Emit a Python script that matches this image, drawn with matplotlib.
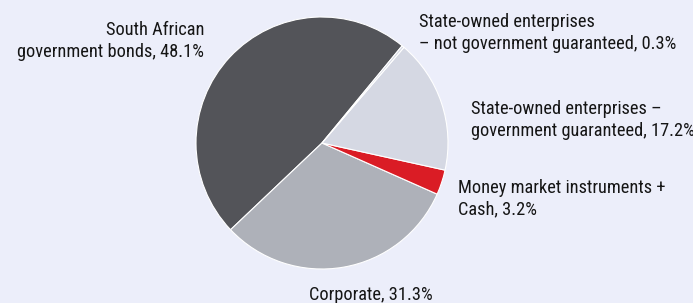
import matplotlib.pyplot as plt
from matplotlib import font_manager

labels = ['South African\ngovernment bonds, 48.1%',
          'Corporate, 31.3%',
          'Money market instruments +\nCash, 3.2%',
          'State-owned enterprises –\ngovernment guaranteed, 17.2%',
          'State-owned enterprises\n– not government guaranteed, 0.3%']
shares = [48.1, 31.3, 3.2, 17.2, 0.3]
colors = ['#535459', '#aeb1b9', '#da1c25', '#d5d8e3', '#d5d8e3']

names = {f.name for f in font_manager.fontManager.ttflist}
fam = 'Roboto Condensed' if 'Roboto Condensed' in names else 'Roboto'
plt.rcParams['font.family'] = [fam, 'DejaVu Sans']

W, H = 693, 303
bg = '#eceefa'
fig = plt.figure(figsize=(W / 100, H / 100), dpi=100, facecolor=bg)
ax = fig.add_axes([0, 0, 1, 1])
ax.set_facecolor(bg)

ax.pie(shares, colors=colors, startangle=50.5, counterclock=True,
       center=(322, H - 143), radius=126, frame=True,
       wedgeprops=dict(edgecolor='white', linewidth=0.8))
ax.set_xlim(0, W)
ax.set_ylim(0, H)
ax.set_aspect('equal')
ax.axis('off')

# label anchor: x, first baseline (px from top), alignment
pos = [(204, 35, 'right'), (371, 300, 'center'), (458, 193, 'left'),
       (471, 114, 'left'), (419, 27, 'left')]
pitch = 21.6
for lab, (x, y, ha) in zip(labels, pos):
    for i, line in enumerate(lab.split('\n')):
        ax.text(x, H - (y + i * pitch), line, ha=ha, va='baseline',
                fontsize=13.2, color='#151515')

fig.savefig('out.png', dpi=100, facecolor=bg)
